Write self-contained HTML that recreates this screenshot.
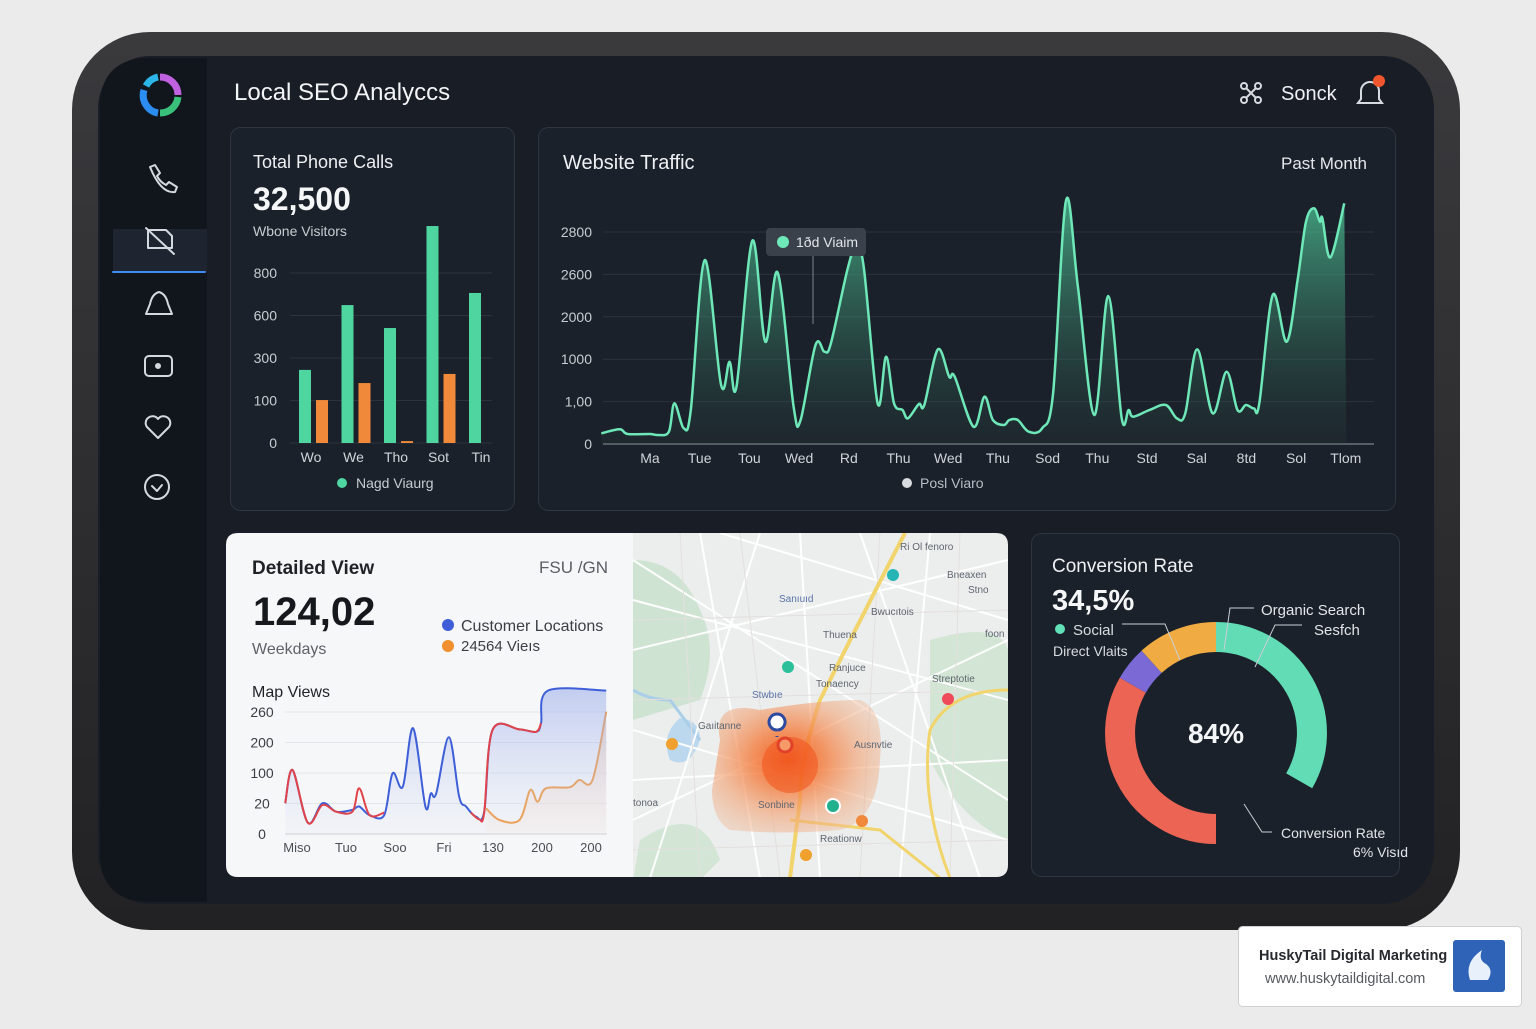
<!DOCTYPE html>
<html><head><meta charset="utf-8"><title>Local SEO Analytics</title>
<style>
html,body{margin:0;padding:0;background:#ebebec;}
body{width:1536px;height:1024px;overflow:hidden;font-family:"Liberation Sans",sans-serif;}
svg text{font-family:"Liberation Sans",sans-serif;}
</style></head>
<body>
<svg id="root" width="1536" height="1024" viewBox="0 0 1536 1024" xmlns="http://www.w3.org/2000/svg">
<defs>
  <linearGradient id="frameG" x1="0" y1="0" x2="0" y2="1"><stop offset="0" stop-color="#3a3a3d"/><stop offset="1" stop-color="#222224"/></linearGradient>
  <linearGradient id="trafficFill" x1="0" y1="0" x2="0" y2="1"><stop offset="0" stop-color="#4fc99a" stop-opacity="0.75"/><stop offset="1" stop-color="#2a4a42" stop-opacity="0.15"/></linearGradient>
  <linearGradient id="blueFill" x1="0" y1="0" x2="0" y2="1"><stop offset="0" stop-color="#9fb0ea" stop-opacity="0.6"/><stop offset="1" stop-color="#dfe5f6" stop-opacity="0.2"/></linearGradient>
  <linearGradient id="orFill" x1="0" y1="0" x2="0" y2="1"><stop offset="0" stop-color="#f6c9a6" stop-opacity="0.7"/><stop offset="1" stop-color="#fbe9dc" stop-opacity="0.3"/></linearGradient>
  <radialGradient id="heat" cx="0.45" cy="0.45" r="0.6"><stop offset="0" stop-color="#f25a1c" stop-opacity="0.95"/><stop offset="0.35" stop-color="#f47a3a" stop-opacity="0.8"/><stop offset="0.7" stop-color="#f2a070" stop-opacity="0.6"/><stop offset="1" stop-color="#eeb896" stop-opacity="0.45"/></radialGradient>
  <clipPath id="mapClip"><path d="M633 533 H996 Q1008 533 1008 545 V865 Q1008 877 996 877 H633 Z"/></clipPath>
</defs>

<!-- device -->
<rect x="72" y="32" width="1388" height="898" rx="78" fill="url(#frameG)"/>
<rect x="98" y="56" width="1336" height="848" rx="52" fill="#181d26"/>
<path d="M150 58 H207 V902 H150 Q100 902 100 852 V108 Q100 58 150 58 Z" fill="#11151c"/>

<!-- logo -->
<g>
  <path d="M160 77 A18 18 0 0 1 178 95" stroke="#c061e0" stroke-width="7" fill="none"/>
  <path d="M178 97 A18 18 0 0 1 160 113" stroke="#39c07a" stroke-width="7" fill="none"/>
  <path d="M158 113 A18 18 0 0 1 144 90" stroke="#2b8df0" stroke-width="7" fill="none"/>
  <path d="M146 86 A18 18 0 0 1 158 77" stroke="#2bb5e8" stroke-width="7" fill="none"/>
</g>
<!-- sidebar icons -->
<g stroke="#d4d9df" stroke-width="2" fill="none" stroke-linecap="round" stroke-linejoin="round">
  <path d="M150 167 l5 -2 l5 8 l-3 3 q3 6 9 9 l3 -3 l8 5 l-2 5 q-14 2 -25 -25 z"/>
  <rect x="113" y="229" width="94" height="43" fill="#1e2530" stroke="none"/>
  <line x1="113" y1="272" x2="205" y2="272" stroke="#3d8ef0" stroke-width="2"/>
  <path d="M148 230 h18 l6 6 v12 h-24 z M146 228 l28 26"/>
  <path d="M146 314 l4 -10 q2 -10 9 -12 q7 2 9 12 l4 10 z"/>
  <rect x="145" y="356" width="27" height="20" rx="4"/>
  <circle cx="158" cy="366" r="2" fill="#d4d9df"/>
  <path d="M158 438 l-11 -11 a6 6 0 0 1 11 -8 a6 6 0 0 1 11 8 z"/>
  <circle cx="157" cy="487" r="12"/>
  <path d="M152 486 l5 5 l5 -6"/>
</g>

<!-- header -->
<text x="234" y="100" font-size="24" fill="#f2f4f6">Local SEO Analyccs</text>
<g stroke="#d7dbe0" stroke-width="2" fill="none">
  <circle cx="1244" cy="86" r="3"/><circle cx="1258" cy="86" r="3"/><circle cx="1244" cy="100" r="3"/><circle cx="1258" cy="100" r="3"/><path d="M1246 88 l10 10 M1256 88 l-10 10"/>
</g>
<text x="1281" y="100" font-size="20" fill="#eef0f3">Sonck</text>
<g>
  <path d="M1358 103 l3 -4 v-8 a9 9 0 0 1 18 0 v8 l3 4 z" stroke="#d7dbe0" stroke-width="2" fill="none"/>
  <circle cx="1379" cy="81" r="6" fill="#f0562d"/>
</g>

<!-- Phone calls card -->
<rect x="230.5" y="127.5" width="284" height="383" rx="10" fill="#1b212a" stroke="#2f3641"/>
<text x="253" y="168" font-size="18" fill="#eef0f3">Total Phone Calls</text>
<text x="253" y="210" font-size="32" font-weight="bold" fill="#f5f6f8">32,500</text>
<text x="253" y="236" font-size="14" fill="#c8cdd3">Wbone Visitors</text>
<g id="barChart"></g>
<circle cx="342" cy="483" r="5" fill="#4fd6a0"/>
<text x="356" y="488" font-size="14" fill="#c8cdd3">Nagd Viaurg</text>

<!-- Traffic card -->
<rect x="538.5" y="127.5" width="857" height="383" rx="10" fill="#1b212a" stroke="#2f3641"/>
<text x="563" y="169" font-size="20" fill="#eef0f3">Website Traffic</text>
<text x="1367" y="169" font-size="17" fill="#e4e7eb" text-anchor="end">Past Month</text>
<g id="lineChart"></g>
<circle cx="907" cy="483" r="5" fill="#d8dbe0"/>
<text x="920" y="488" font-size="14" fill="#b8bec6">Posl Viaro</text>

<!-- Detailed view card -->
<path d="M238 533 H633 V877 H238 Q226 877 226 865 V545 Q226 533 238 533 Z" fill="#f6f7f8"/>
<text x="252" y="574" font-size="19" font-weight="bold" fill="#1f2328">Detailed View</text>
<text x="608" y="573" font-size="17" fill="#5a5f66" text-anchor="end">FSU /GN</text>
<text x="253" y="625" font-size="40" font-weight="bold" fill="#15181c">124,02</text>
<text x="252" y="654" font-size="16" fill="#5e636a">Weekdays</text>
<circle cx="448" cy="625" r="6" fill="#3e5fd8"/>
<text x="461" y="631" font-size="16" fill="#3a3f46">Customer Locations</text>
<circle cx="448" cy="646" r="6" fill="#f0902e"/>
<text x="461" y="651" font-size="15" fill="#3a3f46">24564 Vieıs</text>
<text x="252" y="697" font-size="16" fill="#1f2328">Map Views</text>
<g id="mapViewsChart"></g>

<!-- Map -->
<g clip-path="url(#mapClip)">
  <rect x="633" y="533" width="376" height="345" fill="#eceeee"/>
  <path d="M633 560 Q680 560 700 610 Q720 650 700 700 L633 720 Z" fill="#cfe3d3"/>
  <path d="M640 840 Q700 800 720 860 L700 880 L633 880 Z" fill="#d3e6d6"/>
  <path d="M930 640 Q1000 620 1008 650 V840 Q960 820 930 760 Z" fill="#d3e5d4"/>
  <path d="M680 718 Q700 720 700 740 Q690 770 670 760 Q660 735 680 718 Z" fill="#bcd8ef"/>
  <path d="M633 690 Q650 700 670 700 L700 740" stroke="#aacde8" stroke-width="3" fill="none"/>
  <g stroke="#ffffff" stroke-width="2" fill="none" opacity="0.95">
    <path d="M633 600 L1008 700"/><path d="M633 650 L1008 560"/><path d="M700 533 L760 878"/><path d="M633 780 L1008 760"/>
    <path d="M800 533 L820 878"/><path d="M930 533 L900 878"/><path d="M633 730 L1008 840"/><path d="M650 878 L760 533"/>
    <path d="M860 533 L980 878"/><path d="M633 820 L1008 640"/><path d="M720 533 L1008 620"/><path d="M633 560 L1008 800"/>
  </g>
  <g stroke="#e3dfdc" stroke-width="1" fill="none">
    <path d="M680 533 L700 878 M740 533 L780 878 M880 533 L860 878 M960 533 L950 878 M633 700 L1008 690 M633 620 L1008 610 M633 850 L1008 840"/>
  </g>
  <path d="M905 533 Q860 620 820 700 Q800 760 800 800 L790 878" stroke="#f2d46c" stroke-width="4" fill="none"/>
  <path d="M1008 690 Q950 690 930 730 Q920 800 950 878" stroke="#f2d46c" stroke-width="3" fill="none"/>
  <path d="M790 820 L880 830 L940 878" stroke="#f2d46c" stroke-width="3" fill="none"/>
  <path d="M720 740 Q712 700 760 710 Q820 700 860 700 Q885 710 880 760 Q878 820 840 830 Q780 835 730 830 Q712 820 712 790 Z" fill="url(#heat)"/>
  <circle cx="790" cy="765" r="28" fill="#f0531b" opacity="0.55"/>
  <g font-size="10" fill="#5f6670">
    <text x="900" y="550">Ri Ol fenoro</text><text x="947" y="578">Bneaxen</text><text x="968" y="593">Stno</text>
    <text x="779" y="602" fill="#5a72a8">Sanıuıd</text><text x="871" y="615">Bwucıtois</text><text x="823" y="638">Thuena</text>
    <text x="985" y="637">foon</text><text x="829" y="671">Ranjuce</text><text x="816" y="687">Tonaency</text>
    <text x="932" y="682">Streptotie</text><text x="752" y="698" fill="#5a72a8">Stwbıe</text><text x="698" y="729">Gaıitanne</text>
    <text x="854" y="748">Ausnvtie</text><text x="758" y="808">Sonbine</text><text x="633" y="806">tonoa</text>
    <text x="820" y="842">Reationw</text>
  </g>
  <circle cx="893" cy="575" r="6" fill="#26b5b5"/>
  <circle cx="788" cy="667" r="6" fill="#2dbf9a"/>
  <circle cx="948" cy="699" r="6" fill="#ef4a5a"/>
  <circle cx="672" cy="744" r="6" fill="#f0a02c"/>
  <circle cx="862" cy="821" r="6" fill="#f08a3a"/>
  <circle cx="806" cy="855" r="6" fill="#f0a02c"/>
  <path d="M777 730 a8 8 0 1 1 0.1 0 M777 737 l0 -1" stroke="#2d4aa0" stroke-width="3" fill="#ffffff"/>
  <circle cx="785" cy="745" r="7" stroke="#e0422a" stroke-width="3" fill="#f79a6a"/>
  <circle cx="833" cy="806" r="7" stroke="#ffffff" stroke-width="2" fill="#20b08e"/>
</g>

<!-- Conversion card -->
<rect x="1031.5" y="533.5" width="368" height="343" rx="10" fill="#1b212a" stroke="#2f3641"/>
<text x="1052" y="572" font-size="19" fill="#eef0f3">Conversion Rate</text>
<text x="1052" y="610" font-size="29" font-weight="bold" fill="#f5f6f8">34,5%</text>
<circle cx="1060" cy="629" r="5" fill="#62e0b8"/>
<text x="1073" y="635" font-size="15" fill="#d8dce1">Social</text>
<text x="1053" y="656" font-size="14" fill="#d8dce1">Direct Vlaits</text>
<g id="donut"></g>
<text x="1216" y="743" font-size="28" font-weight="bold" fill="#f5f6f8" text-anchor="middle">84%</text>
<g stroke="#c9ced4" stroke-width="1" fill="none">
  <path d="M1122 624 H1165 L1180 660"/><path d="M1254 608 H1230 L1224 650"/><path d="M1302 625 H1275 L1255 667"/><path d="M1244 804 L1262 832 H1272"/>
</g>
<text x="1261" y="615" font-size="15" fill="#e2e5e9">Organic Search</text>
<text x="1314" y="635" font-size="15" fill="#e2e5e9">Sesfch</text>
<text x="1281" y="838" font-size="14" fill="#e2e5e9">Conversion Rate</text>
<text x="1353" y="857" font-size="14" fill="#e2e5e9">6% Visıd</text>

<!-- watermark -->
<rect x="1238.5" y="926.5" width="283" height="80" rx="4" fill="#ffffff" stroke="#cfd0d2"/>
<text x="1259" y="960" font-size="14.5" font-weight="bold" fill="#26292d">HuskyTail Digital Marketing</text>
<text x="1265" y="983" font-size="14.5" fill="#55595f">www.huskytaildigital.com</text>
<rect x="1453" y="940" width="52" height="52" rx="3" fill="#2f63b8"/>
<path d="M1470 980 q-6 -18 12 -30 q-4 10 4 14 q8 6 2 16 z" fill="#e8f0fb"/>
</svg>

<script>
const NS = "http://www.w3.org/2000/svg";
function mk(tag, attrs, parent){ const e=document.createElementNS(NS,tag); for(const k in attrs) e.setAttribute(k,attrs[k]); parent.appendChild(e); return e; }
function smoothPath(pts){
  let d="M"+pts[0][0].toFixed(1)+" "+pts[0][1].toFixed(1);
  for(let i=0;i<pts.length-1;i++){
    const p0=pts[Math.max(0,i-1)],p1=pts[i],p2=pts[i+1],p3=pts[Math.min(pts.length-1,i+2)];
    const c1x=p1[0]+(p2[0]-p0[0])/6,c1y=p1[1]+(p2[1]-p0[1])/6,c2x=p2[0]-(p3[0]-p1[0])/6,c2y=p2[1]-(p3[1]-p1[1])/6;
    d+=" C"+c1x.toFixed(1)+" "+c1y.toFixed(1)+" "+c2x.toFixed(1)+" "+c2y.toFixed(1)+" "+p2[0].toFixed(1)+" "+p2[1].toFixed(1);
  }
  return d;
}

/* ---------- Phone calls bar chart ---------- */
const phoneCategories = ["Wo","We","Tho","Sot","Tin"];
const phoneGreen = [344, 649, 541, 1021, 706];
const phoneOrange = [202, 282, 9, 325, 0];
const phoneTickValues = [0, 200, 400, 600, 800];
const phoneTickLabels = ["0","100","300","600","800"];

/* ---------- Website traffic line ---------- */
const trafficDayLabels = ["Ma","Tue","Tou","Wed","Rd","Thu","Wed","Thu","Sod","Thu","Std","Sal","8td","Sol","Tlom"];
const trafficX = [-0.98,-0.61,-0.45,0,0.16,0.38,0.49,0.68,0.82,1.10,1.43,1.60,1.74,2.06,2.32,2.57,2.89,3.03,3.33,3.51,3.64,3.97,4.14,4.30,4.58,4.75,4.91,5.08,5.19,5.41,5.52,5.79,6.02,6.13,6.51,6.73,6.90,7.12,7.23,7.40,7.62,7.89,8.11,8.37,8.61,8.94,9.22,9.49,9.63,9.72,10.05,10.38,10.60,10.77,11.01,11.32,11.60,11.82,11.99,12.15,12.26,12.53,12.81,13.03,13.20,13.36,13.48,13.53,13.69,13.97];
const trafficY = [126,173,118,118,106,145,480,185,401,2169,696,971,676,2398,1206,2020,440,283,1167,1088,1187,2051,2326,2090,480,1029,480,401,303,472,460,1116,794,794,204,558,283,224,283,283,145,185,598,2869,1855,342,1745,303,401,322,401,460,303,362,1116,362,852,401,460,420,480,1757,1206,1934,2621,2779,2621,2661,2201,2838];
const trafficTickValues = [0,500,1000,1500,2000,2500];
const trafficTickLabels = ["0","1,00","1000","2000","2600","2800"];
const trafficTooltipLabel = "1ðd Viaim";

/* ---------- Map views ---------- */
const mapViewLabels = ["Miso","Tuo","Soo","Fri","130","200","200"];
const mapTickValues = [0,1,2,3,4];
const mapTickLabels = ["0","20","100","200","260"];
const blueX = [-0.24,-0.09,0.22,0.52,0.80,1.13,1.27,1.48,1.78,1.95,2.16,2.37,2.62,2.73,2.84,3.10,3.31,3.45,3.65,3.82,3.99,4.54,4.88,4.98,5.12,6.31];
const blueY = [1.01,2.10,0.37,1.01,0.73,0.79,0.90,0.62,0.62,1.99,1.55,3.47,0.90,1.33,1.33,3.17,1.22,0.90,0.57,0.73,3.41,3.43,3.35,3.63,4.70,4.70];
const redX = [-0.24,-0.09,0.22,0.52,0.80,1.13,1.27,1.48,1.78];
const redY = [1.01,2.10,0.37,0.95,0.73,0.73,1.50,0.62,0.70];
const red2X = [3.55,3.72,3.82,3.99,4.54,4.88,4.98];
const red2Y = [0.70,0.48,0.70,3.41,3.43,3.35,3.63];
const orangeX = [3.86,4.13,4.54,4.76,4.91,5.08,5.56,5.76,6.03,6.31];
const orangeY = [0.84,0.46,0.46,1.44,1.06,1.50,1.53,1.77,1.77,4.01];

/* ---------- Donut ---------- */
const donutLabels = ["Organic Search","Gap","Conversion","Direct","Social"];
const donutValues = [33.3, 16.7, 33.3, 5.0, 11.7];
const donutColors = ["#62dcb4","none","#ec6453","#7b6ad6","#f0ac42"];

/* draw bar chart */
(function(){
  const g=document.getElementById('barChart');
  const y0=443, yStep=42.5/200;
  const ys=v=>y0-v*yStep;
  const xc=i=>313+i*42.5;
  phoneTickValues.forEach((v,i)=>{
    const l=mk('line',{x1:290,x2:492,y1:ys(v),y2:ys(v),stroke:'#2c333d','stroke-width':1},g);
    
    
    const t=mk('text',{x:277,y:ys(v)+5,'font-size':14,fill:'#c8cdd3','text-anchor':'end'},g);
    t.textContent=phoneTickLabels[i];
    
    
  });
  phoneCategories.forEach((c,i)=>{
    const gb=mk('rect',{x:xc(i)-14,y:ys(phoneGreen[i]),width:12,height:phoneGreen[i]*yStep,fill:'#4fd6a0'},g);
    
    
    if(phoneOrange[i]>0){
      const ob=mk('rect',{x:xc(i)+3,y:ys(phoneOrange[i]),width:12,height:phoneOrange[i]*yStep,fill:'#f08a3a'},g);
      
      
    }
    const t=mk('text',{x:xc(i)-2,y:462,'font-size':14,fill:'#d0d4da','text-anchor':'middle'},g);
    t.textContent=c;
    
    
  });
})();

/* draw traffic chart */
(function(){
  const g=document.getElementById('lineChart');
  const y0=444, k=212/2500;
  const ys=v=>y0-v*k;
  const xs=d=>650+d*49.7;
  trafficTickValues.forEach((v,i)=>{
    const l=mk('line',{x1:603,x2:1374,y1:ys(v),y2:ys(v),stroke:i===0?'#6b727c':'#2c333d','stroke-width':i===0?1.5:1},g);
    
    
    const t=mk('text',{x:592,y:ys(v)+5,'font-size':14,fill:'#c8cdd3','text-anchor':'end'},g);
    t.textContent=trafficTickLabels[i];
    
    
  });
  const pts=trafficX.map((d,i)=>[xs(d),ys(trafficY[i])]);
  const line=smoothPath(pts);
  const area=mk('path',{d:line+" L"+(xs(trafficX[trafficX.length-1])+2)+" "+y0+" L"+xs(trafficX[0])+" "+y0+" Z",fill:'url(#trafficFill)'},g);
  
  
  const p=mk('path',{d:line,fill:'none',stroke:'#6ee8b8','stroke-width':2.5},g);
  
  
  trafficDayLabels.forEach((lab,i)=>{
    const t=mk('text',{x:xs(i),y:463,'font-size':14,fill:'#d0d4da','text-anchor':'middle'},g);
    t.textContent=lab;
    
    
  });
  const ttx=xs(3.28);
  const tl=mk('line',{x1:ttx,x2:ttx,y1:256,y2:324,stroke:'#7d848d','stroke-width':1},g);
  
  
  const tb=mk('rect',{x:766,y:228,width:100,height:28,rx:4,fill:'#3a414b'},g);
  
  
  const td=mk('circle',{cx:783,cy:242,r:6,fill:'#6ee8b8'},g);
  
  
  const tt=mk('text',{x:796,y:247,'font-size':14,fill:'#e2e5e9'},g);
  tt.textContent=trafficTooltipLabel;
  
  
})();

/* draw map views chart */
(function(){
  const g=document.getElementById('mapViewsChart');
  const y0=834, k=30.5;
  const ys=v=>y0-v*k;
  const xs=t=>297+t*49;
  mapTickValues.forEach((v,i)=>{
    const l=mk('line',{x1:285,x2:607,y1:ys(v),y2:ys(v),stroke:i===0?'#c9ccd1':'#e3e5e8','stroke-width':1},g);
    
    
    const t=mk('text',{x:262,y:ys(v)+5,'font-size':14,fill:'#3a3f46','text-anchor':'middle'},g);
    t.textContent=mapTickLabels[i];
    
    
  });
  mapViewLabels.forEach((lab,i)=>{
    const t=mk('text',{x:xs(i),y:852,'font-size':13,fill:'#4a4f56','text-anchor':'middle'},g);
    t.textContent=lab;
    
    
  });
  function series(X,Y,color,fill,name){
    const pts=X.map((t,i)=>[xs(t),ys(Y[i])]);
    const d=smoothPath(pts);
    if(fill){
      const a=mk('path',{d:d+" L"+pts[pts.length-1][0]+" "+y0+" L"+pts[0][0]+" "+y0+" Z",fill:fill},g);
      
      
    }
    const p=mk('path',{d:d,fill:'none',stroke:color,'stroke-width':2},g);
    
    
  }
  series(orangeX,orangeY,'#f0902e','url(#orFill)','orange-views');
  series(blueX,blueY,'#3e5fd8','url(#blueFill)','customer-locations');
  series(redX,redY,'#e0444a',null,'red-views-start');
  series(red2X,red2Y,'#e0444a',null,'red-views-end');
})();

/* draw donut */
(function(){
  const g=document.getElementById('donut');
  const cx=1216, cy=733, r=96, w=30;
  const total=donutValues.reduce((a,b)=>a+b,0);
  let acc=0;
  donutValues.forEach((v,i)=>{
    const a0=acc/total*2*Math.PI, a1=(acc+v)/total*2*Math.PI; acc+=v;
    if(donutColors[i]==='none') return;
    const x0=cx+r*Math.sin(a0), y0=cy-r*Math.cos(a0), x1=cx+r*Math.sin(a1), y1=cy-r*Math.cos(a1);
    const large=(a1-a0)>Math.PI?1:0;
    const p=mk('path',{d:`M${x0.toFixed(1)} ${y0.toFixed(1)} A${r} ${r} 0 ${large} 1 ${x1.toFixed(1)} ${y1.toFixed(1)}`,fill:'none',stroke:donutColors[i],'stroke-width':w},g);
    
    
  });
})();
</script>
</body></html>
